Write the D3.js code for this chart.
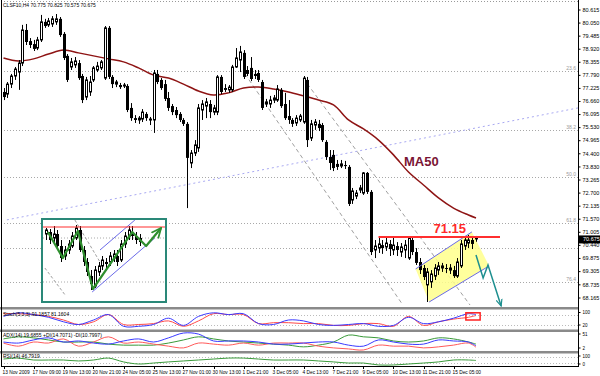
<!DOCTYPE html>
<html>
<head>
<meta charset="utf-8">
<script src="https://cdn.jsdelivr.net/npm/d3@7"></script>
<style>
body { margin: 0; background: #fff; }
svg text { font-family: "Liberation Sans", Arial, sans-serif; }
</style>
</head>
<body>
<svg id="chart" width="600" height="376"></svg>
<script>
//////////////////////////////////////////////////////////////////////////////
// Data

var header = "CLSF10,H4  70.775 70.825 70.575 70.675";

// one row per bar: open, high, low, close
var candles = [
    [77.05,77.22,76.70,76.83],[76.96,77.48,76.79,77.39],[77.39,77.83,77.22,77.74],[77.74,78.13,77.57,78.04],
    [77.91,78.43,77.14,78.30],[78.30,79.95,78.17,79.73],[79.73,79.99,79.08,79.21],[79.25,79.38,78.95,79.08],
    [79.12,79.30,78.82,78.91],[78.95,79.43,78.86,79.30],[79.30,80.38,79.21,80.08],[80.08,80.21,79.82,79.90],
    [79.95,80.25,79.86,80.12],[79.99,80.33,79.86,80.21],[80.08,80.42,79.95,80.21],[80.21,80.29,79.43,79.51],
    [79.56,79.64,78.43,78.52],[78.61,78.69,77.48,77.57],[78.13,78.52,78.00,78.35],[78.22,78.56,78.09,78.39],
    [78.30,78.43,77.57,77.65],[77.74,77.83,76.57,76.70],[76.83,77.70,76.70,77.57],[77.05,77.74,76.88,77.48],
    [77.57,78.17,77.48,78.09],[78.00,78.35,77.91,78.17],[78.09,78.43,78.00,78.35],[77.65,79.90,77.57,79.82],
    [79.82,79.90,77.61,77.70],[77.70,77.78,77.22,77.39],[77.39,77.57,77.26,77.48],[77.35,77.44,77.18,77.26],
    [77.31,77.44,77.22,77.35],[77.31,77.39,76.18,76.27],[76.36,76.57,75.80,75.92],[75.92,76.05,75.71,75.84],
    [75.84,76.01,75.67,75.92],[75.88,76.31,75.75,76.18],[76.10,76.18,75.80,75.92],[75.84,75.97,75.62,75.88],
    [75.84,78.00,75.28,77.87],[77.83,78.00,77.39,77.48],[77.57,77.65,77.14,77.22],[77.39,77.57,76.66,76.75],
    [76.79,77.05,76.23,76.36],[76.44,76.53,76.05,76.18],[76.27,76.40,75.92,76.05],[76.10,76.18,75.75,75.84],
    [75.84,75.92,75.58,75.67],[75.67,75.75,72.03,74.20],[73.98,74.54,73.76,74.41],[74.41,74.97,74.28,74.76],
    [74.63,76.53,74.46,76.36],[76.27,76.70,75.84,76.53],[76.44,76.79,75.92,76.62],[76.53,76.70,75.92,76.18],
    [76.18,76.49,76.05,76.36],[76.18,77.78,76.05,77.70],[77.70,77.78,76.96,77.05],[77.22,77.39,77.05,77.14],
    [77.14,77.35,77.01,77.26],[77.14,78.22,77.05,78.13],[78.13,78.95,78.09,78.52],[78.43,79.04,77.91,78.78],
    [78.74,78.86,77.61,77.70],[78.00,78.17,77.74,77.83],[78.09,78.56,77.52,77.61],[77.83,78.00,77.61,77.74],
    [77.87,78.00,77.48,77.57],[77.48,77.57,76.27,76.36],[76.53,76.75,76.40,76.62],[76.53,76.88,76.36,76.70],
    [76.70,76.92,76.57,76.79],[76.70,77.35,76.62,77.18],[77.14,77.22,76.36,76.44],[76.53,77.01,75.84,75.92],
    [76.01,76.70,75.67,75.84],[75.84,75.92,75.54,75.67],[75.71,76.05,75.58,75.92],[75.84,76.10,75.75,76.01],
    [75.75,77.74,75.67,77.65],[77.57,77.70,74.67,74.97],[75.06,75.84,74.93,75.67],[75.62,75.88,75.41,75.75],
    [75.67,75.84,75.36,75.49],[75.62,75.71,74.89,74.97],[74.89,74.97,74.11,74.24],[74.24,74.54,73.68,73.98],
    [74.33,74.54,73.63,73.76],[73.94,74.11,73.68,73.81],[73.85,74.11,73.76,73.94],[73.89,74.07,73.72,73.85],
    [73.81,73.89,72.12,72.21],[72.38,72.90,72.21,72.77],[72.55,72.81,72.42,72.68],[72.81,73.03,72.68,72.90],
    [72.68,73.59,72.60,73.55],[73.55,73.59,72.64,72.73],[72.73,72.81,70.00,70.13],[70.22,70.65,69.87,70.39],
    [70.30,70.74,70.09,70.48],[70.43,70.65,70.05,70.30],[70.35,70.74,70.18,70.52],[70.48,70.65,69.96,70.26],
    [70.22,70.74,70.00,70.43],[70.39,70.56,69.96,70.22],[70.13,70.52,69.92,70.35],[70.22,70.65,69.87,70.43],
    [69.87,70.82,69.79,70.74],[70.65,70.78,70.00,70.13],[70.13,70.30,69.57,69.66],[69.70,69.87,69.18,69.35],
    [69.44,69.57,68.92,69.05],[68.71,69.44,67.97,69.27],[68.84,69.35,68.58,69.18],[69.09,69.61,68.92,69.44],
    [69.35,69.70,69.14,69.53],[69.44,69.66,69.27,69.53],[69.44,69.61,69.22,69.40],[69.35,69.61,69.18,69.44],
    [69.35,69.53,69.01,69.09],[69.09,69.87,69.01,69.70],[69.53,70.65,69.44,70.48],[70.39,70.82,70.22,70.65],
    [70.52,70.87,70.30,70.65],[70.65,70.74,70.26,70.48],[70.775,70.825,70.575,70.675]
];
var lastPrice = 70.675;

// bars where the indicator lines were read
var sampleBars = [0,4,8,12,16,20,24,28,32,36,40,44,48,52,56,60,64,68,72,76,80,84,88,92,96,100,104,108,112,116,120,124,126];

var ma50 = [78.52,78.39,78.48,78.69,78.86,78.74,78.61,78.48,78.35,78.09,77.78,77.65,77.39,77.09,76.92,77.01,77.22,
            77.26,77.18,77.05,76.88,76.70,76.49,75.84,75.45,74.97,74.33,73.59,73.03,72.47,72.03,71.73,71.60];

var stochMain   = [70,90,80,65,40,25,50,80,15,15,25,60,20,70,90,80,85,30,25,50,45,25,20,25,30,15,20,65,30,40,60,85,80];
var stochSignal = [85,85,80,70,50,25,40,80,25,25,30,45,15,45,85,80,80,30,35,35,30,30,20,20,30,30,15,70,20,40,55,65,75];

var adxMain = [35,41,38,32,26,26,26,20,17,17,17,23,32,41,35,29,26,23,20,17,12,17,26,46,41,38,29,26,29,38,35,26,20];
var plusDI  = [26,23,32,38,26,29,23,20,29,35,26,38,52,49,29,29,29,26,20,20,23,26,26,17,14,32,26,20,20,32,29,26,15];
var minusDI = [23,14,26,23,35,14,26,41,23,26,20,14,9,23,20,17,23,17,23,23,23,14,9,6,3,17,14,14,9,12,17,23,11];

var rsi = [56,62,50,50,50,44,50,62,38,25,31,38,44,50,56,62,62,56,50,50,50,44,38,31,31,19,19,25,31,38,50,50,47];

var priceTicks = [80.615,80.050,79.485,78.920,78.355,77.790,77.225,76.660,76.095,75.530,74.965,74.400,
                  73.830,73.265,72.700,72.135,71.570,71.005,70.440,69.875,69.305,68.735,68.165];

// labels on the right of the indicator windows: [text, baseline y]
var sideLabels = [["100", 314], ["20", 326.5], ["51", 335.5], ["2", 349.5], ["100", 357.5], ["0", 365.5]];

var timeBars   = [0,8,16,24,32,40,48,56,64,72,80,88,96,104,112,120];
var timeLabels = ["13 Nov 2009","17 Nov 09:00","19 Nov 13:00","20 Nov 21:00","24 Nov 05:00","25 Nov 13:00",
                  "27 Nov 01:00","30 Nov 13:00","1 Dec 21:00","3 Dec 05:00","4 Dec 13:00","7 Dec 21:00",
                  "9 Dec 05:00","10 Dec 13:00","11 Dec 21:00","15 Dec 05:00"];

// fibonacci levels (dotted) and their labels
var fibLevels = [77.96, 75.41, 73.37, 71.39, 70.30, 68.84];
var fibLabels = ["23.6", "38.2", "50.0", "61.8", "", "76.4"];

// hand-drawn annotations, as [bar, price]
var resistance = 70.78, resistanceText = "71.15", resistanceBars = [100, 132.4];
var flagBox   = [[109.9,69.40],[124.9,71.00],[129.5,69.53],[113.5,67.97]];
var flagUpper = [[109.9,69.40],[124.9,71.00]];
var flagLower = [[113.5,67.97],[129.5,69.53]];
var channel1  = [[64.4,77.83],[106.5,67.84]];
var channel2  = [[79.9,77.65],[124.4,67.84]];
var trendLine = [[0.9,71.52],[153.2,76.36]];
var arrowPath = [[126,70.00],[127.9,69.01],[129.2,69.57],[132.7,67.80]];
var maLabel   = [106.8, 73.85];
var stochBox  = [[123.3,90],[127.1,50]];

// small pattern picture in the lower left
var insetCandles = [
    [79.40,79.70,79.10,79.60],[79.50,79.65,78.90,79.10],[79.20,79.80,79.00,79.40],[79.40,79.60,78.70,78.80],
    [78.80,79.10,78.00,78.20],[78.30,78.80,78.10,78.60],[78.60,79.10,78.40,78.90],[78.80,79.50,78.70,79.30],
    [79.20,79.85,79.10,79.70],[79.60,79.80,78.50,78.60],[78.60,78.80,77.80,78.00],[78.00,78.20,77.30,77.50],
    [77.30,77.60,76.60,76.90],[76.80,77.80,76.70,77.60],[77.50,78.00,77.30,77.80],[77.80,78.30,77.60,78.10],
    [78.00,78.20,77.70,77.90],[78.00,78.50,77.80,78.30],[78.20,78.60,78.00,78.40],[78.30,78.60,77.80,78.00],
    [78.10,79.10,78.00,78.90],[78.90,79.50,78.70,79.30],[79.30,79.80,79.10,79.60],[79.50,79.80,79.10,79.30],
    [79.30,79.50,78.90,79.10],[79.20,79.40,78.80,79.00]
];
var insetZigzag = [[0.5,79.5],[4.5,78.2],[8.5,79.55],[12.5,76.65],[23,79.5],[26.7,78.8],[30.7,79.7]];
var insetBlue1  = [[12.3,76.5],[29,79.2]];
var insetBlue2  = [[14.4,78.6],[23.7,80.1]];
var insetGray1  = [[7.7,80.1],[14.4,78.0]];
var insetGray2  = [[-0.3,77.7],[5.1,76.35]];
var insetRed    = 79.75;
var insetDots   = [79.2, 77.0];

//////////////////////////////////////////////////////////////////////////////
// Scales

var svg = d3.select("#chart");

var xScale = d3.scaleLinear().domain([0, 126]).range([3.5, 476]);
var yScale = d3.scaleLinear().domain([68.165, 80.615]).range([297.5, 9.5]);

var yStoch = d3.scaleLinear().domain([0, 100]).range([329, 311]);
var yAdx   = d3.scaleLinear().domain([0, 55]).range([351, 332]);
var yRsi   = d3.scaleLinear().domain([0, 100]).range([368, 352]);

var xInset = d3.scaleLinear().domain([0, 1]).range([46, 49.75]);
var yInset = d3.scaleLinear().domain([80, 79]).range([222, 242]);

var defs = svg.append("defs");
defs.append("clipPath").attr("id", "mainClip")
    .append("rect").attr("x", 1).attr("y", 1).attr("width", 577).attr("height", 306);
defs.append("clipPath").attr("id", "insetClip")
    .append("rect").attr("x", 43).attr("y", 220).attr("width", 122).attr("height", 81);

function addArrow(id, color)
{
    defs.append("marker")
        .attr("id", id)
        .attr("viewBox", "0 0 10 10")
        .attr("refX", 9).attr("refY", 5)
        .attr("markerWidth", 5).attr("markerHeight", 5)
        .attr("orient", "auto")
        .append("path")
        .attr("d", "M0,1 L9,5 L0,9")
        .attr("fill", "none")
        .attr("stroke", color)
        .attr("stroke-width", 1.6);
}
addArrow("tealArrow", "#1d8f8f");
addArrow("greenArrow", "#2f8f2f");

function pts(list, xs, ys)
{
    return d3.line().x(function(d) { return xs(d[0]); }).y(function(d) { return ys(d[1]); })(list);
}

//////////////////////////////////////////////////////////////////////////////
// Main price window

var main = svg.append("g").attr("clip-path", "url(#mainClip)");

// top dotted border
main.append("line")
    .attr("x1", 1).attr("x2", 578).attr("y1", 1.5).attr("y2", 1.5)
    .attr("stroke", "#999").attr("stroke-dasharray", "1,2");

main.selectAll(".fib")
    .data(fibLevels)
    .enter()
    .append("line")
    .attr("x1", 1).attr("x2", 578)
    .attr("y1", function(d) { return Math.round(yScale(d)) + 0.5; })
    .attr("y2", function(d) { return Math.round(yScale(d)) + 0.5; })
    .attr("stroke", "#a8a8a8")
    .attr("stroke-dasharray", "1,2");

main.selectAll(".fibText")
    .data(fibLevels)
    .enter()
    .append("text")
    .attr("x", 576)
    .attr("y", function(d) { return yScale(d) - 1; })
    .attr("text-anchor", "end")
    .attr("font-size", 5)
    .attr("fill", "#9a9a9a")
    .text(function(d, i) { return fibLabels[i]; });

main.append("path")
    .attr("d", pts(trendLine, xScale, yScale))
    .attr("stroke", "#a9a9f2").attr("stroke-width", 1)
    .attr("stroke-dasharray", "2,3").attr("fill", "none");

[channel1, channel2].forEach(function(c) {
    main.append("path")
        .attr("d", pts(c, xScale, yScale))
        .attr("stroke", "#a0a0a0").attr("stroke-width", 1)
        .attr("stroke-dasharray", "4,3").attr("fill", "none");
});

main.append("path")
    .attr("d", pts(flagBox, xScale, yScale) + "Z")
    .attr("fill", "#ffff8c").attr("opacity", 0.85);

main.append("path")
    .attr("d", d3.line()
        .x(function(d, i) { return xScale(sampleBars[i]); })
        .y(function(d) { return yScale(d); })
        .curve(d3.curveCatmullRom)(ma50))
    .attr("fill", "none")
    .attr("stroke", "#8e1414")
    .attr("stroke-width", 1.5);

function drawCandles(g, data, xs, ys)
{
    var c = g.append("g")
        .selectAll("g")
        .data(data)
        .enter()
        .append("g");
    c.append("line")
        .attr("x1", function(d, i) { return Math.round(xs(i)) + 0.5; })
        .attr("x2", function(d, i) { return Math.round(xs(i)) + 0.5; })
        .attr("y1", function(d) { return ys(d[1]); })
        .attr("y2", function(d) { return ys(d[2]); })
        .attr("stroke", "#000").attr("stroke-width", 1);
    c.append("rect")
        .attr("x", function(d, i) { return d[3] >= d[0] ? Math.round(xs(i)) - 0.5 : Math.round(xs(i)) - 1; })
        .attr("width", function(d) { return d[3] >= d[0] ? 2 : 3; })
        .attr("y", function(d) { return ys(Math.max(d[0], d[3])); })
        .attr("height", function(d) { return Math.max(1, Math.abs(ys(d[0]) - ys(d[3]))); })
        .attr("fill", function(d) { return d[3] >= d[0] ? "#fff" : "#000"; })
        .attr("stroke", function(d) { return d[3] >= d[0] ? "#000" : "none"; })
        .attr("stroke-width", 1);
}
drawCandles(main, candles, xScale, yScale);

[flagUpper, flagLower].forEach(function(c) {
    main.append("path")
        .attr("d", pts(c, xScale, yScale))
        .attr("stroke", "#6a6ae8").attr("stroke-width", 1).attr("fill", "none");
});

main.append("line")
    .attr("x1", xScale(resistanceBars[0])).attr("x2", xScale(resistanceBars[1]))
    .attr("y1", yScale(resistance)).attr("y2", yScale(resistance))
    .attr("stroke", "#ff2f2f").attr("stroke-width", 2);

main.append("text")
    .attr("x", xScale(119)).attr("y", yScale(resistance) - 4)
    .attr("text-anchor", "middle")
    .attr("font-size", 13).attr("font-weight", "bold")
    .attr("fill", "#ff2a2a")
    .text(resistanceText);

main.append("text")
    .attr("x", xScale(maLabel[0])).attr("y", yScale(maLabel[1]))
    .attr("font-size", 13).attr("font-weight", "bold")
    .attr("fill", "#7a1434")
    .text("MA50");

main.append("path")
    .attr("d", pts(arrowPath, xScale, yScale))
    .attr("stroke", "#1d8f8f").attr("stroke-width", 1.5).attr("fill", "none")
    .attr("marker-end", "url(#tealArrow)");

main.append("text")
    .attr("x", 3).attr("y", 7)
    .attr("font-size", 5).attr("fill", "#000")
    .text(header);

//////////////////////////////////////////////////////////////////////////////
// Inset pattern picture

var inset = svg.append("g");
inset.append("rect")
    .attr("x", 42).attr("y", 219).attr("width", 124).attr("height", 83)
    .attr("fill", "#fff").attr("stroke", "#2a8878").attr("stroke-width", 2);

var insetIn = inset.append("g").attr("clip-path", "url(#insetClip)");

insetIn.selectAll(".idots")
    .data(insetDots)
    .enter()
    .append("line")
    .attr("x1", 43).attr("x2", 165)
    .attr("y1", function(d) { return yInset(d); }).attr("y2", function(d) { return yInset(d); })
    .attr("stroke", "#aaa").attr("stroke-dasharray", "1,2");

[insetGray1, insetGray2].forEach(function(c) {
    insetIn.append("path")
        .attr("d", pts(c, xInset, yInset))
        .attr("stroke", "#a0a0a0").attr("stroke-dasharray", "3,2").attr("fill", "none");
});

drawCandles(insetIn, insetCandles, xInset, yInset);

[insetBlue1, insetBlue2].forEach(function(c) {
    insetIn.append("path")
        .attr("d", pts(c, xInset, yInset))
        .attr("stroke", "#6a6ae8").attr("stroke-width", 1).attr("fill", "none");
});

insetIn.append("line")
    .attr("x1", 43).attr("x2", 165)
    .attr("y1", yInset(insetRed)).attr("y2", yInset(insetRed))
    .attr("stroke", "#ff2f2f").attr("stroke-width", 1.2);

insetIn.append("path")
    .attr("d", pts(insetZigzag, xInset, yInset))
    .attr("stroke", "#2f8f2f").attr("stroke-width", 2.2).attr("fill", "none")
    .attr("stroke-linejoin", "round")
    .attr("marker-end", "url(#greenArrow)");

//////////////////////////////////////////////////////////////////////////////
// Indicator windows

function indLine(values, ys, color)
{
    svg.append("path")
        .attr("d", d3.line()
            .x(function(d, i) { return xScale(sampleBars[i]); })
            .y(function(d) { return ys(d); })
            .curve(d3.curveCatmullRom)(values))
        .attr("fill", "none")
        .attr("stroke", color)
        .attr("stroke-width", 1);
}

function dotted(y)
{
    svg.append("line")
        .attr("x1", 1).attr("x2", 578).attr("y1", y).attr("y2", y)
        .attr("stroke", "#bbb").attr("stroke-dasharray", "1,2");
}

dotted(Math.round(yStoch(80)) + 0.5);
dotted(Math.round(yStoch(20)) + 0.5);
indLine(stochSignal, yStoch, "#ff4a4a");
indLine(stochMain, yStoch, "#3a3aff");

indLine(adxMain, yAdx, "#3a9a3a");
indLine(minusDI, yAdx, "#ff5a5a");
indLine(plusDI, yAdx, "#3a3aff");

dotted(Math.round(yRsi(70)) + 0.5);
dotted(Math.round(yRsi(30)) + 0.5);
indLine(rsi, yRsi, "#3a9a3a");

svg.append("rect")
    .attr("x", xScale(stochBox[0][0])).attr("y", yStoch(stochBox[0][1]))
    .attr("width", xScale(stochBox[1][0]) - xScale(stochBox[0][0]))
    .attr("height", yStoch(stochBox[1][1]) - yStoch(stochBox[0][1]))
    .attr("fill", "none").attr("stroke", "#ff2020").attr("stroke-width", 1.5);

var indTitles = [
    ["Stoch(5,3,3) 91.1857 81.1604", 315.5],
    ["ADX(14) 19.6855 +DI(14.7071) -DI(10.7997)", 336.5],
    ["RSI(14) 46.7919", 357.5]
];
svg.selectAll(".indTitle")
    .data(indTitles)
    .enter()
    .append("text")
    .attr("x", 3).attr("y", function(d) { return d[1]; })
    .attr("font-size", 5).attr("fill", "#000")
    .text(function(d) { return d[0]; });

// window separators
[307, 329.5, 351].forEach(function(y) {
    svg.append("rect")
        .attr("x", 0).attr("y", y).attr("width", 579).attr("height", 2.5)
        .attr("fill", "#8a8a8a");
});

//////////////////////////////////////////////////////////////////////////////
// Axes

svg.append("line").attr("x1", 1.5).attr("x2", 1.5).attr("y1", 0).attr("y2", 367)
    .attr("stroke", "#000");
svg.append("line").attr("x1", 578.5).attr("x2", 578.5).attr("y1", 0).attr("y2", 367)
    .attr("stroke", "#000");
svg.append("line").attr("x1", 1).attr("x2", 579).attr("y1", 366.5).attr("y2", 366.5)
    .attr("stroke", "#000");

var pAxis = svg.append("g").attr("transform", "translate(578.5,0)")
    .call(d3.axisRight(yScale).tickValues(priceTicks).tickSize(2).tickFormat(d3.format(".3f")));
pAxis.select(".domain").remove();
pAxis.selectAll("text").attr("font-size", 5.5).attr("x", 4).attr("fill", "#000");

svg.append("rect")
    .attr("x", 579).attr("y", yScale(lastPrice) - 4)
    .attr("width", 21).attr("height", 8).attr("fill", "#000");
svg.append("text")
    .attr("x", 583).attr("y", yScale(lastPrice) + 2)
    .attr("font-size", 5.5).attr("fill", "#fff")
    .text(d3.format(".3f")(lastPrice));

svg.selectAll(".side")
    .data(sideLabels)
    .enter()
    .append("text")
    .attr("x", 582.5).attr("y", function(d) { return d[1]; })
    .attr("font-size", 4.5).attr("fill", "#000")
    .text(function(d) { return d[0]; });

svg.selectAll(".sideTick")
    .data(sideLabels)
    .enter()
    .append("line")
    .attr("x1", 578.5).attr("x2", 580.5)
    .attr("y1", function(d) { return d[1] - 1.5; }).attr("y2", function(d) { return d[1] - 1.5; })
    .attr("stroke", "#000");

svg.selectAll(".tTick")
    .data(timeBars)
    .enter()
    .append("line")
    .attr("x1", function(d) { return Math.round(xScale(d)) + 0.5; })
    .attr("x2", function(d) { return Math.round(xScale(d)) + 0.5; })
    .attr("y1", 366).attr("y2", 369)
    .attr("stroke", "#000");

svg.selectAll(".tLabel")
    .data(timeBars)
    .enter()
    .append("text")
    .attr("x", function(d) { return xScale(d) - 1; })
    .attr("y", 373.5)
    .attr("font-size", 4.8).attr("fill", "#000")
    .text(function(d, i) { return timeLabels[i]; });
</script>
</body>
</html>
